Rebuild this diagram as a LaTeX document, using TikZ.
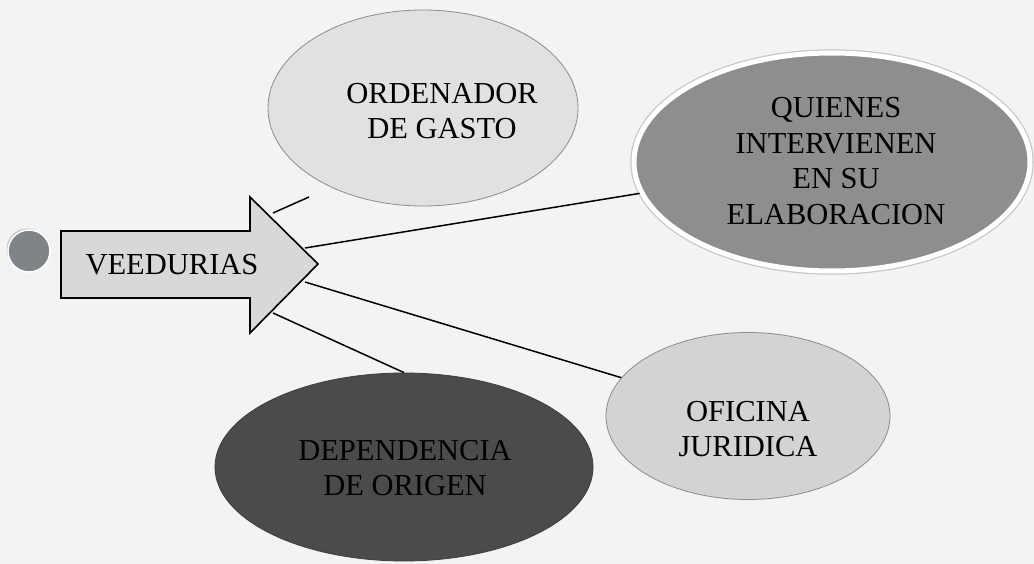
\documentclass[tikz,border=0pt]{standalone}
\usepackage{fontspec}
\setmainfont{Liberation Serif}
\usetikzlibrary{shapes.geometric,shadows}
\definecolor{bgc}{HTML}{F3F3F1}
\definecolor{lightfill}{HTML}{E1E1DF}
\definecolor{midfill}{HTML}{8E8E8E}
\definecolor{darkfill}{HTML}{4B4B4B}
\definecolor{ofifill}{HTML}{D3D3D1}
\definecolor{arrowfill}{HTML}{D8D8D6}
\definecolor{dotfill}{HTML}{7F8488}
\begin{document}
\begin{tikzpicture}[x=1pt,y=-1pt,
  bubble/.style={ellipse,inner sep=0pt},
  lbl/.style={align=center,font=\fontsize{30.5}{35.5}\selectfont,text=black},
  conn/.style={draw=black,line width=1.5pt}]
\useasboundingbox[fill=bgc] (0,0) rectangle (1034,564);
% dot
\node[circle,minimum size=42pt,inner sep=0pt,fill=dotfill,draw=white,line width=1.5pt,
  drop shadow={shadow xshift=-1.5pt,shadow yshift=1.5pt,opacity=0.4}] (dot) at (29,251) {};
% ellipses
\node[bubble,minimum width=310pt,minimum height=196pt,fill=lightfill,draw=black!45,line width=0.8pt] (og) at (423,108) {};
\node[bubble,minimum width=396pt,minimum height=218pt,fill=midfill,draw=white,line width=5pt,
  preaction={draw=black!22,line width=7.5pt}] (q) at (832,162) {};
\node[bubble,minimum width=378pt,minimum height=188pt,fill=darkfill,draw=darkfill!80!black,line width=0.8pt] (d) at (404,467) {};
\node[bubble,minimum width=284pt,minimum height=167pt,fill=ofifill,draw=black!45,line width=0.8pt] (of) at (748,416) {};
% labels
\node[lbl] (ogt) at (442,111) {ORDENADOR\\DE GASTO};
\node[lbl] (qt) at (836,161) {QUIENES\\INTERVIENEN\\EN SU\\ELABORACION};
\node[lbl] (dt) at (405,468) {DEPENDENCIA\\DE ORIGEN};
\node[lbl] (oft) at (748,429) {OFICINA\\JURIDICA};
% arrow
\coordinate (ab1) at (61,231);
\coordinate (ab2) at (250,231);
\coordinate (ah1) at (250,197);
\coordinate (tip) at (318,264);
\coordinate (ah2) at (250,333);
\coordinate (ab3) at (250,298);
\coordinate (ab4) at (61,298);
\draw[fill=arrowfill,draw=black,line width=1.6pt,line join=miter]
  (ab1) -- (ab2) -- (ah1) -- (tip) -- (ah2) -- (ab3) -- (ab4) -- cycle;
\node[lbl] (vt) at (172,265) {VEEDURIAS};
% connectors
\coordinate (s1) at (273,213);
\coordinate (e1) at (309,197);
\coordinate (s2) at (305,248);
\coordinate (s3) at (305,282);
\coordinate (s4) at (273,313);
\draw[conn] (s1) -- (e1);
\draw[conn] (s2) -- (q);
\draw[conn] (s3) -- (of);
\draw[conn] (s4) -- (d.north);
\end{tikzpicture}
\end{document}
